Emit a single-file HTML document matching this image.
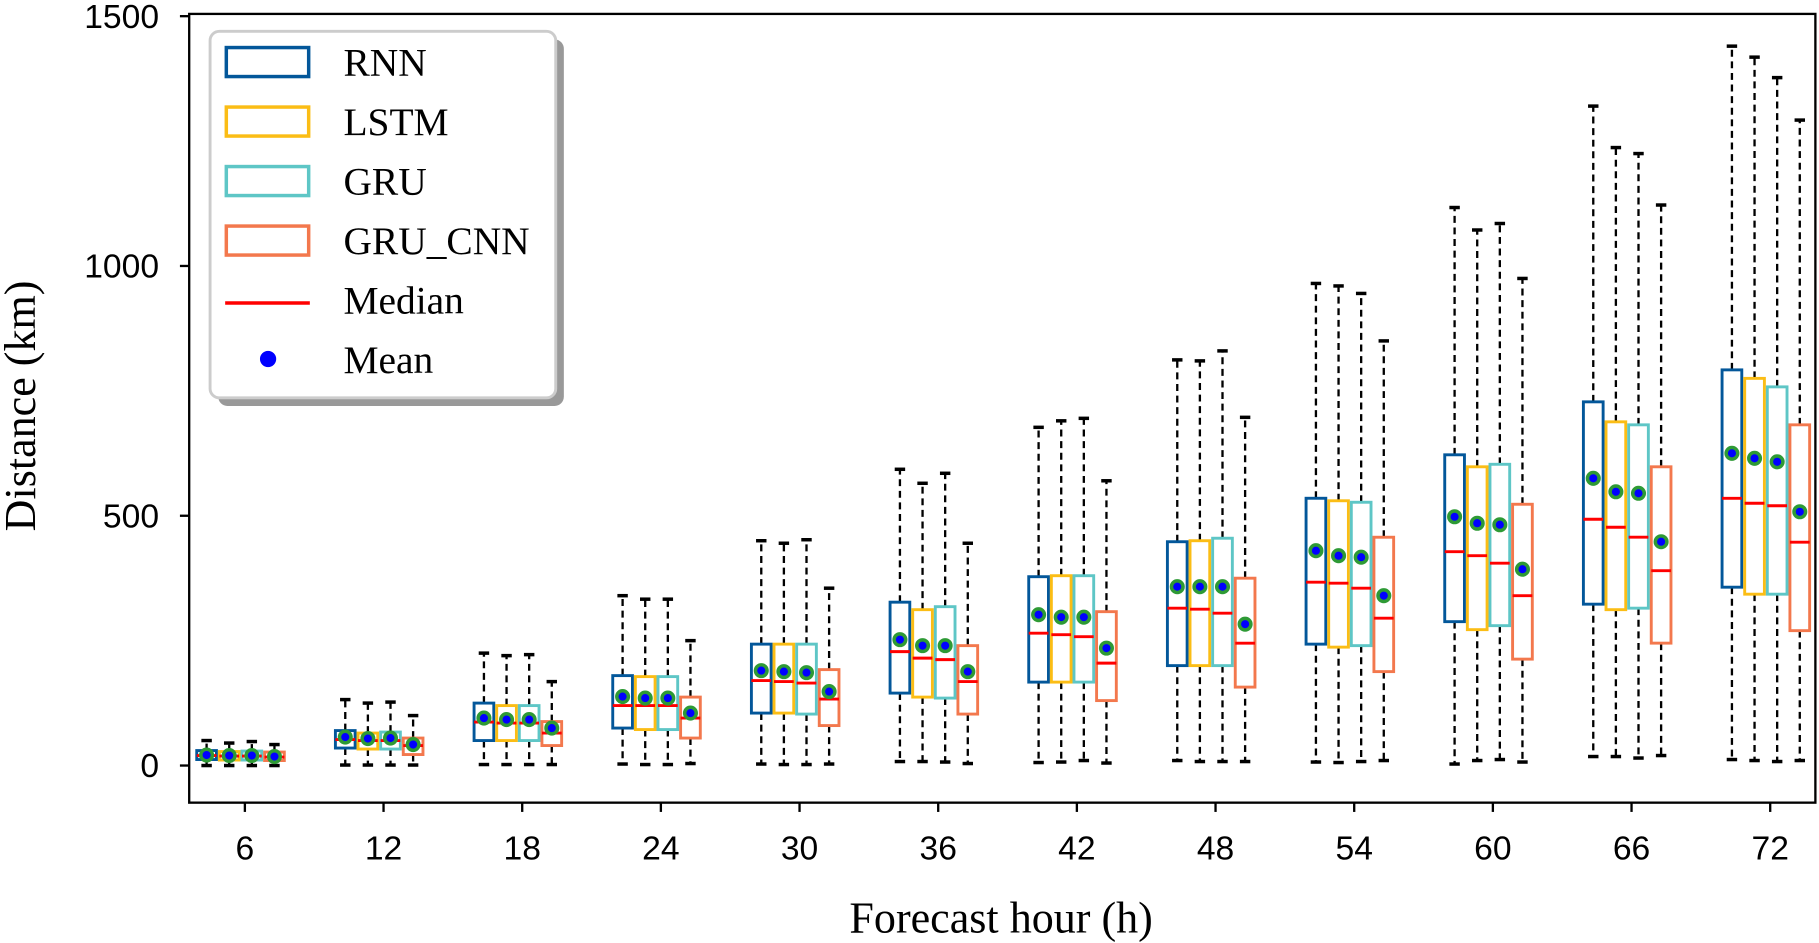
<!DOCTYPE html>
<html><head><meta charset="utf-8"><style>
html,body{margin:0;padding:0;background:#fff;}
svg{display:block;}
text{font-family:"Liberation Sans",sans-serif;}
.serif{font-family:"Liberation Serif",serif;}
</style></head><body>
<svg id="chart" width="1819" height="943" viewBox="0 0 1568 813" xmlns="http://www.w3.org/2000/svg">
<g id="plot"></g>
<rect x="163" y="12" width="1402" height="680" fill="none" stroke="#000" stroke-width="2"/>
<g id="yaxis"></g>
<g id="xaxis"></g>
<text class="serif" x="0" y="0" font-size="38" text-anchor="middle" transform="translate(30,350) rotate(-90)">Distance (km)</text>
<text class="serif" x="863" y="804" font-size="38" text-anchor="middle">Forecast hour (h)</text>
<g id="legend">
<rect x="188" y="34" width="298" height="316" rx="8" fill="#999"/>
<rect x="181" y="27" width="298" height="316" rx="8" fill="#fff" stroke="#ccc" stroke-width="2.5"/>
</g>
</svg>
<script>
const hours=[6,12,18,24,30,36,42,48,54,60,66,72];
const models=["RNN","LSTM","GRU","GRU_CNN"];
const colors=["#03579a","#fbbd15","#5ec6c6","#f3784d"];
const q1={RNN:[12,35,50,75,105,145,167,200,243,288,323,357],LSTM:[11,33,50,72,105,137,167,200,237,272,312,343],GRU:[11,33,50,72,103,135,167,200,240,280,315,343],GRU_CNN:[10,22,40,55,80,103,130,157,188,213,245,270]};
const q3={RNN:[30,70,125,180,243,327,378,448,535,622,728,792],LSTM:[28,65,120,178,243,312,380,450,530,598,688,775],GRU:[29,67,120,178,243,318,380,455,527,603,682,758],GRU_CNN:[27,55,88,137,192,240,308,375,457,523,598,682]};
const med={RNN:[20,52,87,120,170,228,265,315,367,428,493,535],LSTM:[19,50,85,120,168,215,262,313,365,420,477,525],GRU:[19,50,85,120,165,212,258,305,355,405,457,520],GRU_CNN:[17,40,65,95,133,168,205,245,295,340,390,447]};
const mean={RNN:[21,57,95,138,190,252,302,358,430,498,575,625],LSTM:[20,54,92,135,188,240,297,358,420,485,548,615],GRU:[20,55,92,135,186,240,297,358,417,482,545,608],GRU_CNN:[18,42,75,105,148,188,235,283,340,393,448,508]};
const hi={RNN:[50,132,225,340,450,593,677,812,965,1117,1320,1440],LSTM:[45,125,220,333,445,565,690,810,960,1072,1237,1418],GRU:[48,127,222,333,452,585,695,830,945,1085,1225,1377],GRU_CNN:[42,100,168,250,355,445,570,697,850,975,1122,1292]};
const lo={RNN:[0,1,2,3,3,8,6,10,7,3,18,12],LSTM:[0,1,2,2,2,8,7,8,6,10,18,10],GRU:[0,1,2,2,2,7,10,8,8,12,15,8],GRU_CNN:[0,1,2,4,3,4,5,8,10,7,20,10]};
const yTicks=[0,500,1000,1500];
const NS="http://www.w3.org/2000/svg";
function y(v){return 660-0.4307*v;}
function x(h){return 211+(h-6)/6*119.55;}
function mk(tag,attrs,parent){const e=document.createElementNS(NS,tag);for(const k in attrs)e.setAttribute(k,attrs[k]);parent.appendChild(e);return e;}
const plot=document.getElementById('plot');
const offs=[-33,-13.5,6,25.5], bw=17;
hours.forEach((h,i)=>{
  models.forEach((m,j)=>{
    const cx=x(h)+offs[j], c=colors[j];
    const g=mk('g',{},plot);
    
    
    mk('line',{x1:cx,x2:cx,y1:y(q3[m][i]),y2:y(hi[m][i]),stroke:'#000','stroke-width':2,'stroke-dasharray':'6,4'},g);
    mk('line',{x1:cx,x2:cx,y1:y(q1[m][i]),y2:y(lo[m][i]),stroke:'#000','stroke-width':2,'stroke-dasharray':'6,4'},g);
    mk('line',{x1:cx-4.5,x2:cx+4.5,y1:y(hi[m][i]),y2:y(hi[m][i]),stroke:'#000','stroke-width':3},g);
    mk('line',{x1:cx-4.5,x2:cx+4.5,y1:y(lo[m][i]),y2:y(lo[m][i]),stroke:'#000','stroke-width':3},g);
    mk('rect',{x:cx-bw/2,y:y(q3[m][i]),width:bw,height:y(q1[m][i])-y(q3[m][i]),fill:'#fff',stroke:c,'stroke-width':2.5},g);
    mk('line',{x1:cx-bw/2,x2:cx+bw/2,y1:y(med[m][i]),y2:y(med[m][i]),stroke:'#ff0000','stroke-width':2.5},g);
    mk('circle',{cx:cx,cy:y(mean[m][i]),r:5,fill:'#0000ff',stroke:'#2e9a35','stroke-width':3},g);
  });
});
const ya=document.getElementById('yaxis');
yTicks.forEach(t=>{
  const l=mk('line',{x1:155,x2:163,y1:y(t),y2:y(t),stroke:'#000','stroke-width':2},ya);
  
  
  const tx=mk('text',{x:137,y:y(t)+10,'font-size':29,'text-anchor':'end'},ya);
  tx.textContent=t;
  
  
});
const xa=document.getElementById('xaxis');
hours.forEach(h=>{
  const l=mk('line',{x1:x(h),x2:x(h),y1:692,y2:700,stroke:'#000','stroke-width':2},xa);
  
  
  const tx=mk('text',{x:x(h),y:741,'font-size':29,'text-anchor':'middle'},xa);
  tx.textContent=h;
  
  
});
const lg=document.getElementById('legend');
const labels=["RNN","LSTM","GRU","GRU_CNN","Median","Mean"];
labels.forEach((lab,k)=>{
  const cy=53+k*51.3;
  const g=mk('g',{},lg);
  
  
  if(k<4) mk('rect',{x:195,y:cy-12,width:71,height:25,fill:'none',stroke:colors[k],'stroke-width':3},g);
  else if(k==4) mk('line',{x1:194,x2:267,y1:cy+3,y2:cy+3,stroke:'#ff0000','stroke-width':3},g);
  else mk('circle',{cx:231,cy:cy,r:7,fill:'#0000ff'},g);
  const t=mk('text',{x:296,y:cy+12,'font-size':34,class:'serif'},g);
  t.textContent=lab;
});
</script>
</body></html>
